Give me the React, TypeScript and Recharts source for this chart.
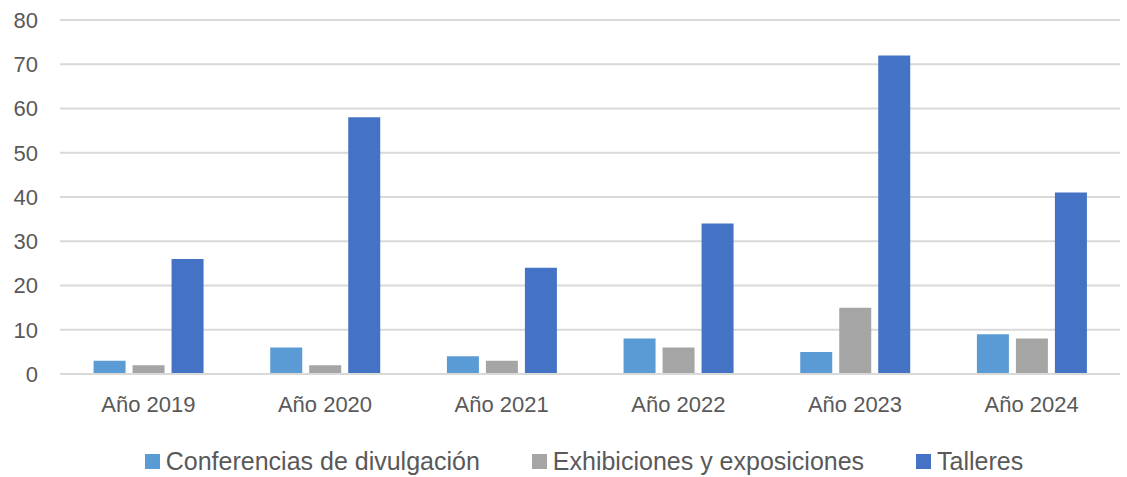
import React from "react";
import {
  BarChart,
  Bar,
  XAxis,
  YAxis,
  CartesianGrid,
  Legend
} from "recharts";

const years = ["Año 2019", "Año 2020", "Año 2021", "Año 2022", "Año 2023", "Año 2024"];
const conferencias = [3, 6, 4, 8, 5, 9];
const exhibiciones = [2, 2, 3, 6, 15, 8];
const talleres = [26, 58, 24, 34, 72, 41];
const yTicks = [0, 10, 20, 30, 40, 50, 60, 70, 80];

const series = [
  { key: "conferencias", name: "Conferencias de divulgación", color: "#5B9BD5" },
  { key: "exhibiciones", name: "Exhibiciones y exposiciones", color: "#A5A5A5" },
  { key: "talleres", name: "Talleres", color: "#4472C4" }
];

const data = years.map((year, i) => ({
  year,
  conferencias: conferencias[i],
  exhibiciones: exhibiciones[i],
  talleres: talleres[i]
}));

const FONT = "'Liberation Sans', Arial, sans-serif";
const TEXT = "#595959";

function LegendContent() {
  return (
    <div
      style={{
        display: "flex",
        justifyContent: "center",
        fontFamily: FONT,
        height: 30,
        paddingLeft: 48
      }}
    >
      {series.map((s, i) => (
        <div
          key={s.key}
          style={{
            display: "flex",
            alignItems: "center",
            marginRight: i < series.length - 1 ? 52 : 0
          }}
        >
          <span style={{ width: 15, height: 15, background: s.color, marginRight: 6 }} />
          <span style={{ fontSize: 25, color: TEXT }}>{s.name}</span>
        </div>
      ))}
    </div>
  );
}

export default function App() {
  return (
    <div style={{ position: "absolute", left: 0, top: 0, background: "#fff" }}>
      <BarChart
        width={1127}
        height={477}
        data={data}
        margin={{ top: 20, right: 7, left: 0, bottom: 0 }}
        barCategoryGap="19%"
        barGap={7}
      >
        <CartesianGrid vertical={false} stroke="#D9D9D9" strokeWidth={2} />
        <XAxis
          dataKey="year"
          axisLine={{ stroke: "#D9D9D9", strokeWidth: 2 }}
          tickLine={false}
          tick={{ fill: TEXT, fontSize: 22, fontFamily: FONT }}
          tickMargin={16}
          height={73}
        />
        <YAxis
          domain={[0, 80]}
          ticks={yTicks}
          axisLine={false}
          tickLine={false}
          tickSize={0}
          tickMargin={22}
          width={60}
          tick={{ fill: TEXT, fontSize: 22, fontFamily: FONT }}
        />
        <Legend
          verticalAlign="bottom"
          content={<LegendContent />}
          wrapperStyle={{ bottom: 1 }}
        />
        {series.map((s) => (
          <Bar
            key={s.key}
            dataKey={s.key}
            name={s.name}
            fill={s.color}
            isAnimationActive={false}
          />
        ))}
      </BarChart>
    </div>
  );
}
